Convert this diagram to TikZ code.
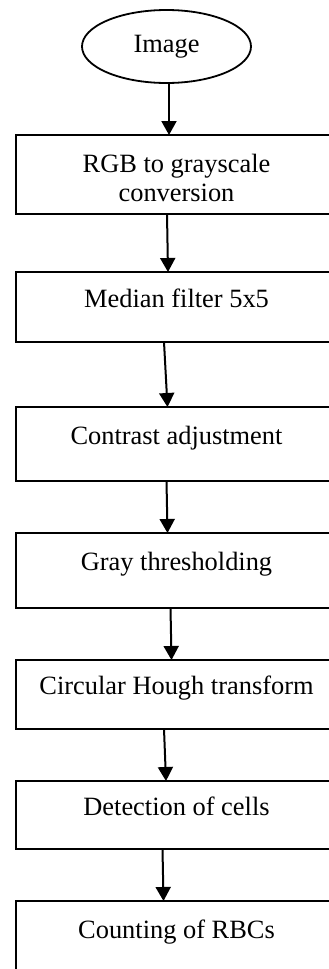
\documentclass[tikz,border=0pt]{standalone}
\usepackage{fontspec}
\setmainfont{Liberation Serif}
\usetikzlibrary{positioning,shapes.geometric,arrows.meta}

\begin{document}
\begin{tikzpicture}[
  terminal/.style={ellipse, draw, line width=0.9pt, minimum width=84.5pt, minimum height=36.5pt,
                   inner sep=0pt, outer sep=0pt, font=\fontsize{13.2}{14.5}\selectfont},
  stage/.style={rectangle, draw, line width=1pt, minimum width=160.5pt, outer sep=0pt,
                align=center, text height=6pt, text depth=6pt, font=\fontsize{13.2}{14.5}\selectfont},
  arr/.style={->, line width=1pt, >={Triangle[width=7.5pt, length=7pt]}},
]
  \useasboundingbox (0,0) rectangle (164pt,-484.5pt);

  % Input
  \node[terminal] (img) at (83.25pt,-23.25pt) {Image};

  % Processing steps
  \node[stage, minimum height=39.5pt, inner ysep=0pt, text height=32.5pt, below=26pt of img, xshift=5pt] (rgb) {RGB to grayscale\\conversion};
  \node[stage, minimum height=35pt, below=29pt of rgb] (median) {Median filter 5x5};
  \node[stage, minimum height=37pt, below=32.5pt of median] (contrast) {Contrast adjustment};
  \node[stage, minimum height=37.5pt, below=26pt of contrast] (thresh) {Gray thresholding};
  \node[stage, minimum height=34.5pt, below=26pt of thresh] (hough) {Circular Hough transform};
  \node[stage, minimum height=34pt, below=26pt of hough] (detect) {Detection of cells};
  \node[stage, minimum height=37.5pt, below=26pt of detect] (count) {Counting of RBCs};

  % Arrows
  \draw[arr] ([xshift=1.25pt]img.south) -- ([xshift=-3.75pt]rgb.north);
  \draw[arr] ([xshift=-4.75pt]rgb.south) -- ([xshift=-4.25pt]median.north);
  \draw[arr] ([xshift=-6.25pt]median.south) -- ([xshift=-4.5pt]contrast.north);
  \draw[arr] ([xshift=-5pt]contrast.south) -- ([xshift=-4.5pt]thresh.north);
  \draw[arr] ([xshift=-3pt]thresh.south) -- ([xshift=-2.5pt]hough.north);
  \draw[arr] ([xshift=-6.25pt]hough.south) -- ([xshift=-5.25pt]detect.north);
  \draw[arr] ([xshift=-7pt]detect.south) -- ([xshift=-6.5pt]count.north);
\end{tikzpicture}
\end{document}
